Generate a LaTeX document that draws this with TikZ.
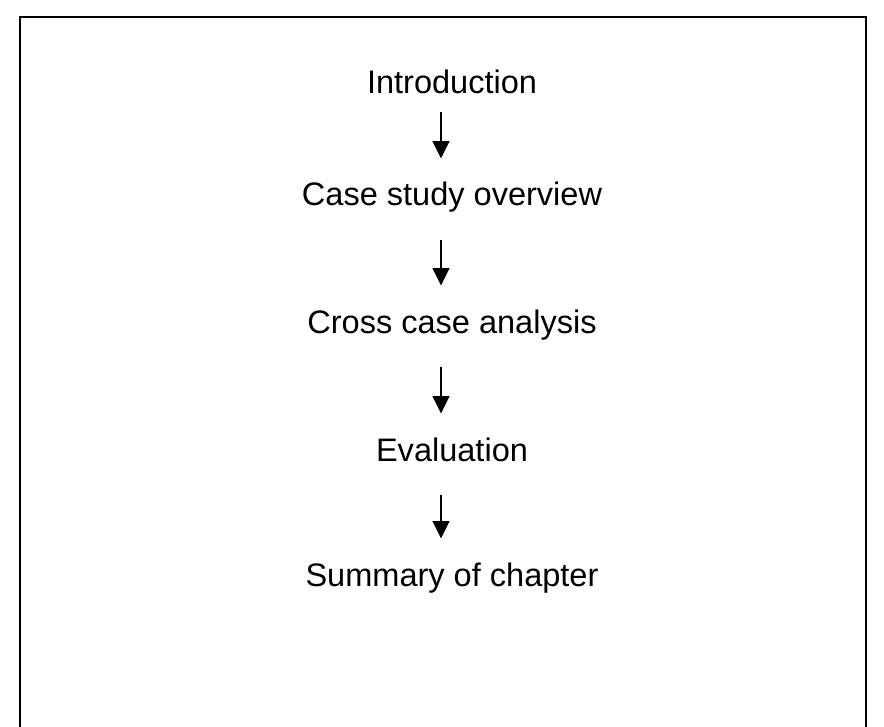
\documentclass[tikz,border=0pt]{standalone}
\usepackage{fontspec}
\setmainfont{Liberation Sans}
\usetikzlibrary{arrows.meta}
\tikzset{
	stage/.style={font=\fontsize{24.4}{29}\selectfont, inner sep=0pt, text height=17.5pt, text depth=0pt, anchor=base},
	flow/.style={-{Triangle[width=12.5pt,length=13pt]}, line width=1.5pt, shorten <=25.5pt, shorten >=18pt},
}
\begin{document}
\begin{tikzpicture}[x=0.75pt, y=-0.75pt]
		\useasboundingbox (0, 0) rectangle (884, 727);
		\draw[line width=1.5pt] (20, 740) -- (20, 17) -- (866, 17) -- (866, 740);
		
		\node[stage] (intro) at (452, 94) {Introduction};
		\node[stage] (case) at (452, 206) {Case study overview};
		\node[stage] (cross) at (452, 333) {Cross case analysis};
		\node[stage] (eval) at (452, 461) {Evaluation};
		\node[stage] (summary) at (452, 586) {Summary of chapter};
		
		\draw[flow, shorten <=13.5pt] ([xshift=-8.25pt]intro.south) -- ([xshift=-8.25pt]case.north);
		\draw[flow] ([xshift=-8.25pt]case.south) -- ([xshift=-8.25pt]cross.north);
		\draw[flow] ([xshift=-8.25pt]cross.south) -- ([xshift=-8.25pt]eval.north);
		\draw[flow] ([xshift=-8.25pt]eval.south) -- ([xshift=-8.25pt]summary.north);
	\end{tikzpicture}
\end{document}
